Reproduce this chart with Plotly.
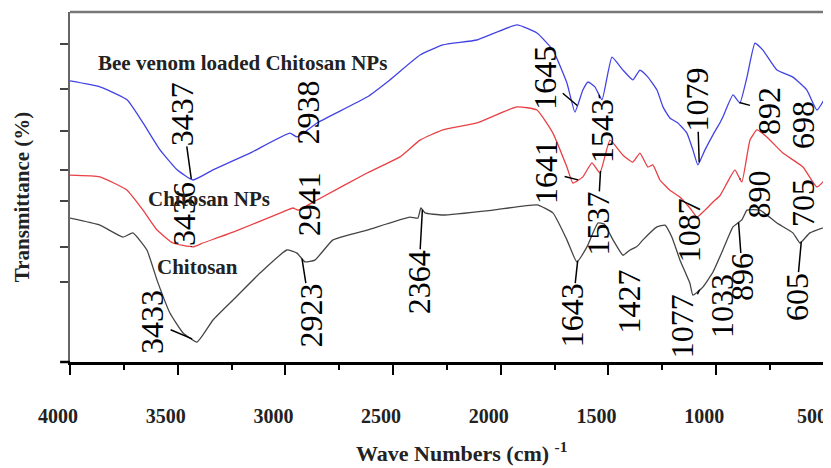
import numpy as np
import plotly.graph_objects as go

# ---------------- data ----------------
blue_wn = [4000, 3861, 3735, 3661, 3582, 3503, 3429, 3336, 3164, 2979,
           2946, 2853, 2621, 2515, 2375, 2269, 2111, 1925, 1832, 1758,
           1693, 1656, 1619, 1595, 1563, 1530, 1484, 1433, 1387, 1354,
           1317, 1275, 1247, 1215, 1178, 1136, 1108, 1085, 1052, 1015,
           983, 969, 922, 890, 857, 820, 783, 718, 644, 579,
           532, 467]
blue_t = [80.3, 78.6, 74.9, 68.3, 60.6, 54.9, 52.0, 54.9, 59.7, 65.4,
          64.3, 68.3, 75.7, 80.6, 87.7, 90.6, 92.0, 96.3, 94.0, 89.1,
          79.7, 71.4, 77.7, 80.0, 78.6, 74.9, 87.1, 83.4, 80.6, 83.4,
          81.4, 77.7, 72.9, 69.7, 68.3, 65.4, 60.6, 56.3, 60.6, 64.9,
          68.3, 70.0, 76.3, 74.0, 81.4, 91.1, 89.1, 83.4, 81.4, 77.7,
          72.0, 78.6]

red_wn = [4000, 3861, 3735, 3661, 3596, 3522, 3429, 3383, 3243, 3011,
          2965, 2941, 2853, 2621, 2468, 2375, 2269, 2111, 1925, 1832,
          1758, 1693, 1665, 1619, 1577, 1540, 1493, 1433, 1387, 1354,
          1317, 1294, 1261, 1215, 1168, 1122, 1089, 1052, 1015, 983,
          950, 913, 881, 843, 811, 765, 690, 597, 532, 467]
red_t = [53.4, 52.9, 49.1, 43.4, 37.7, 34.0, 32.9, 34.0, 37.1, 42.9,
         44.0, 43.4, 46.3, 54.0, 58.6, 63.4, 66.3, 68.3, 72.9, 72.0,
         65.4, 55.7, 51.1, 52.9, 56.9, 54.0, 63.4, 59.1, 57.1, 59.7,
         55.7, 56.3, 52.0, 49.1, 47.1, 44.0, 41.4, 43.4, 45.7, 47.5,
         51.1, 54.9, 51.4, 63.4, 66.3, 64.3, 59.7, 55.7, 50.0, 54.0]

black_wn = [4000, 3861, 3754, 3708, 3643, 3596, 3536, 3475, 3410, 3336,
            3243, 3118, 2993, 2946, 2909, 2863, 2779, 2621, 2422, 2385,
            2371, 2352, 2269, 2036, 1832, 1758, 1693, 1647, 1600, 1549,
            1520, 1479, 1433, 1400, 1368, 1340, 1275, 1238, 1206, 1168,
            1122, 1108, 1062, 1015, 969, 922, 881, 857, 797, 718,
            644, 611, 565, 467]
black_t = [41.1, 39.1, 35.7, 36.9, 32.0, 23.4, 14.0, 8.3, 5.7, 12.0,
           17.7, 25.4, 32.0, 31.1, 28.6, 29.1, 34.9, 37.7, 41.4, 41.1,
           44.0, 42.6, 42.0, 43.4, 44.9, 42.6, 34.9, 28.6, 32.9, 39.7,
           39.4, 34.9, 30.5, 32.0, 33.0, 34.9, 38.6, 39.1, 35.7, 29.1,
           22.5, 19.1, 21.4, 25.7, 32.0, 38.6, 40.6, 43.4, 43.4, 39.7,
           36.9, 34.0, 36.9, 39.1]

series_names = ["Bee venom loaded Chitosan NPs", "Chitosan NPs", "Chitosan"]

x_tickvals = [4000, 3500, 3000, 2500, 2000, 1500, 1000, 500]
x_ticktext = ["4000", "3500", "3000", "2500", "2000", "1500", "1000", "500"]
y_tickvals = [23, 33, 46, 55, 66, 78, 91]

# peak labels: text, series, wavenumber where the leader touches the curve
peak_text = ["3437", "2938", "3436", "2941", "3433", "2923", "2364", "1643",
             "1537", "1543", "1645", "1641", "1427", "1079", "1087", "1077",
             "1033", "896", "890", "892", "698", "705", "605"]
peak_series = ["b", "b", "r", "r", "k", "k", "k", "k",
               "r", "b", "b", "r", "k", "b", "r", "k",
               "k", "k", "r", "b", "b", "r", "k"]
peak_wn = [3437, 2938, 3436, 2941, 3433, 2923, 2364, 1643,
           1537, 1543, 1645, 1641, 1427, 1079, 1087, 1077,
           1033, 896, 890, 892, 532, 532, 605]

# ---------------- layout / style settings ----------------
label_ax = [-9, 9, -8, 11, -40, 9, -4, -6, -3, 3, -33, -32, 5, -2, -9, -18,
            13, 4, 19, 29, -14, -14, -5]
label_ay = [-65, -23, -33, -6, -17, 57, 72, 55, 53, 36, -28, -8, 47, -63, 13, 37,
            28, 55, 16, 8, 15, 16, 55]
label_leader = [True, False, True, False, True, True, True, True,
                True, True, True, True, False, True, False, True,
                True, True, True, True, True, True, True]

colors = {"b": "#4343e4", "r": "#e84044", "k": "#454545"}
series_data = {"b": (blue_wn, blue_t), "r": (red_wn, red_t), "k": (black_wn, black_t)}
serif = "Liberation Serif, Times New Roman, serif"

fig = go.Figure()
for key, name in zip(["b", "r", "k"], series_names):
    wn, t = series_data[key]
    fig.add_trace(go.Scatter(x=wn, y=t, mode="lines", name=name,
                             line=dict(color=colors[key], width=1.3,
                                       shape="spline", smoothing=0.4),
                             showlegend=False, hoverinfo="skip"))

annotations = []
for txt, s, w, ax, ay, lead in zip(peak_text, peak_series, peak_wn,
                                   label_ax, label_ay, label_leader):
    wn, t = series_data[s]
    yv = float(np.interp(w, wn[::-1], t[::-1]))
    annotations.append(dict(
        x=w, y=yv, xref="x", yref="y", text=txt, textangle=-90,
        showarrow=True, arrowhead=0, arrowwidth=1.5,
        arrowcolor="black" if lead else "rgba(0,0,0,0)",
        standoff=0, startstandoff=0, ax=ax, ay=ay, borderpad=0,
        font=dict(family=serif, size=32, color="black")))

name_pos = [(3197, 85.4), (3355, 46.6), (3410, 27.1)]
for name, (xp, yp) in zip(series_names, name_pos):
    annotations.append(dict(x=xp, y=yp, xref="x", yref="y", text="<b>%s</b>" % name,
                            showarrow=False,
                            font=dict(family=serif, size=21, color="#222222")))

annotations.append(dict(x=0, y=0.471, xref="paper", yref="paper", xshift=-48,
                        xanchor="center", yanchor="middle",
                        text="<b>Transmittance (%)</b>", textangle=-90, showarrow=False,
                        font=dict(family=serif, size=21, color="#222222")))
annotations.append(dict(x=0.514, y=0, xref="paper", yref="paper", yshift=-90,
                        xanchor="center", yanchor="middle",
                        text="<b>Wave Numbers (cm) <sup>-1</sup></b>", showarrow=False,
                        font=dict(family=serif, size=22, color="#222222")))

shapes = [
    dict(type="line", xref="paper", yref="paper", x0=0, x1=1, y0=1, y1=1,
         line=dict(color="#777777", width=2.5)),
    dict(type="line", xref="paper", yref="paper", x0=-0.013, x1=0, y0=0, y1=0,
         line=dict(color="black", width=2.5)),
]

# the page body has an 8px margin, so the figure is sized to fit the window
fig.update_layout(
    width=823, height=460,
    margin=dict(l=62, r=0, t=4, b=106, autoexpand=False),
    paper_bgcolor="white", plot_bgcolor="white",
    annotations=annotations, shapes=shapes,
    xaxis=dict(range=[4000, 467], tickvals=x_tickvals, ticktext=x_ticktext,
               automargin=False,
               ticks="outside", ticklen=10, tickwidth=2, tickcolor="black",
               showline=True, linecolor="black", linewidth=2.5,
               showgrid=False, zeroline=False, ticklabelstandoff=24,
               ticklabelshift=12, ticklabeloverflow="allow",
               minor=dict(ticks="outside", ticklen=5, tickwidth=1.5,
                          tickcolor="black", dtick=250, tick0=0, showgrid=False),
               tickfont=dict(family=serif, size=20, color="#222222",
                             weight="bold")),
    yaxis=dict(range=[0, 100], tickvals=y_tickvals, showticklabels=False,
               automargin=False,
               ticks="outside", ticklen=8, tickwidth=2, tickcolor="#444444",
               showline=True, linecolor="#666666", linewidth=2,
               showgrid=False, zeroline=False),
)

fig.write_html("out.html")
